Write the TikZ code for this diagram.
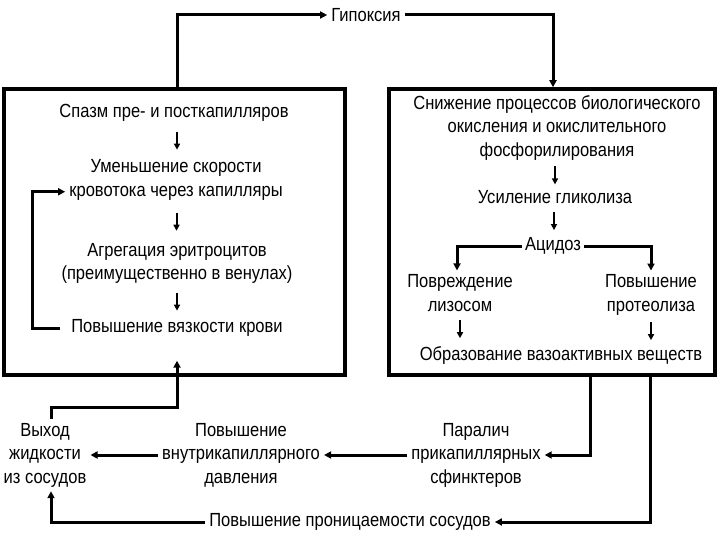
\documentclass[tikz,border=0pt]{standalone}
\usepackage{fontspec}
\setmainfont{Liberation Sans}[FakeStretch=0.87]
\usetikzlibrary{arrows.meta,calc}

\newcommand\smallar[2]{\draw[smallarrow] ($(#1)!0.5!(#2)+(0,-9)$) -- ++(0,18);}

\begin{document}
\begin{tikzpicture}[x=1pt,y=1pt,yscale=-1,xscale=1,
  every node/.style={font=\fontsize{19}{23.5}\selectfont,align=center,inner sep=4pt},
  frame/.style={draw,line width=3.5pt},
  link/.style={line width=3pt,-{Triangle[length=7pt,width=7pt]}},
  smallarrow/.style={line width=2pt,-{Triangle[length=6pt,width=6pt]}}]

\useasboundingbox (0,0) rectangle (720,540);

% frames
\node[frame,minimum width=341,minimum height=286] (lbox) at (174.5,232) {};
\node[frame,minimum width=326,minimum height=286] (rbox) at (552,232) {};

% top
\node (hypoxia) at (366,15) {Гипоксия};

% left block
\node (spasm) at (174,113) {Спазм пре- и посткапилляров};
\node (slowflow) at (176,180) {Уменьшение скорости\\кровотока через капилляры};
\node (aggreg) at (177,263.5) {Агрегация эритроцитов\\(преимущественно в венулах)};
\node (viscos) at (177,328) {Повышение вязкости крови};

% right block
\node (oxid) at (557,128) {Снижение процессов биологического\\окисления и окислительного\\фосфорилирования};
\node (glycol) at (555,197) {Усиление гликолиза};
\node[inner sep=3pt] (acidos) at (553,246) {Ацидоз};
\node (lysos) at (460,293) {Повреждение\\лизосом};
\node (proteol) at (651,295) {Повышение\\протеолиза};
\node (vasoact) at (561,356) {Образование вазоактивных веществ};

% bottom
\node (outflow) at (45,455) {Выход\\жидкости\\из сосудов};
\node (pressure) at (241,455) {Повышение\\внутрикапиллярного\\давления};
\node (paralysis) at (476,455) {Паралич\\прикапиллярных\\сфинктеров};
\node (permeab) at (350,522) {Повышение проницаемости сосудов};

\coordinate (bend) at (177,407);
\coordinate (loopx) at (32,0);
\coordinate (r1) at (590,0);
\coordinate (r2) at (650,0);

% connectors
\draw[link] (bend |- lbox.north) |- (hypoxia.west);
\draw[link] (hypoxia.east) -| (553,0 |- rbox.north);

\smallar{spasm.south -| bend}{slowflow.north -| bend}
\smallar{slowflow.south}{aggreg.north}
\smallar{aggreg.south}{viscos.north}
\draw[link,shorten <=7pt] (viscos.west) -- (viscos.west -| loopx) |- ([yshift=11.75pt]slowflow.west);

\smallar{oxid.south -| glycol}{glycol.north}
\smallar{glycol.south}{acidos.north}
\draw[link] (acidos.west) -| ([xshift=-3pt]lysos.north);
\draw[link] (acidos.east) -| (proteol.north);
\smallar{lysos.south}{lysos.south |- vasoact.north}
\smallar{proteol.south}{proteol.south |- vasoact.north}

\draw[link] (rbox.south -| r1) |- (paralysis.east);
\draw[link] (rbox.south -| r2) |- (permeab.east);
\draw[link] (paralysis.west) -- (pressure.east);
\draw[link] (pressure.west) -- (outflow.east);
\draw[link] (permeab.west) -| ([xshift=6pt]outflow.south);
\draw[link,shorten >=20pt] ([xshift=6pt]outflow.north) |- (bend) -- (viscos.south);

\end{tikzpicture}
\end{document}
